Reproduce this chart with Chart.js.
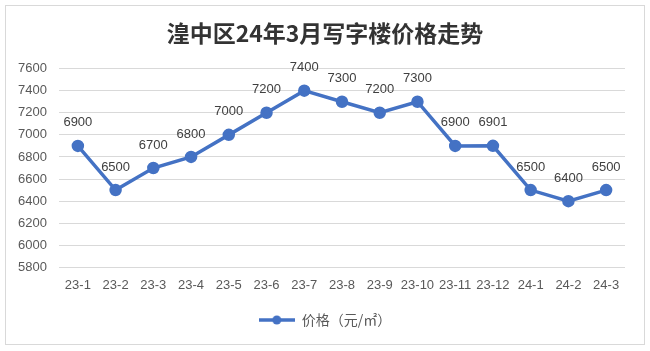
<!DOCTYPE html>
<html><head><meta charset="utf-8">
<script src="https://cdn.jsdelivr.net/npm/chart.js@4/dist/chart.umd.min.js"></script>
<style>
html,body{margin:0;padding:0;background:#fff;}
#wrap{position:absolute;left:0;top:0;width:650px;height:351px;}
#frame{position:absolute;left:5px;top:5px;width:638px;height:338px;border:1px solid #d9d9d9;}
canvas{position:absolute;left:0;top:0;}
</style></head>
<body>
<div id="wrap"><div id="frame"></div><canvas id="c" width="650" height="351"></canvas></div>
<script>
const categories = ['23-1','23-2','23-3','23-4','23-5','23-6','23-7','23-8','23-9','23-10','23-11','23-12','24-1','24-2','24-3'];
const prices = [6900,6500,6700,6800,7000,7200,7400,7300,7200,7300,6900,6901,6500,6400,6500];
const seriesName = '价格（元/㎡）';
const titleText = '湟中区24年3月写字楼价格走势';
const yMin = 5800, yMax = 7600, yStep = 200;

const lineColor = '#4472C4';
const labelFont = '13px "Liberation Sans", "DejaVu Sans", sans-serif';

const legendIcon = document.createElement('canvas');
legendIcon.width = 36; legendIcon.height = 12;
(function(){
  const g = legendIcon.getContext('2d');
  g.strokeStyle = lineColor; g.lineWidth = 3.5;
  g.beginPath(); g.moveTo(0,6); g.lineTo(36,6); g.stroke();
  g.fillStyle = lineColor; g.beginPath(); g.arc(18,6,4.5,0,Math.PI*2); g.fill();
})();

const dataLabels = {
  id:'dataLabels',
  afterDatasetsDraw(chart){
    const ctx = chart.ctx;
    const meta = chart.getDatasetMeta(0);
    ctx.save();
    ctx.font = labelFont;
    ctx.fillStyle = '#404040';
    ctx.textAlign = 'center';
    ctx.textBaseline = 'middle';
    meta.data.forEach((pt,i)=>{
      ctx.fillText(String(chart.data.datasets[0].data[i]), pt.x, pt.y - 23);
    });
    ctx.restore();
  }
};

new Chart(document.getElementById('c'), {
  type:'line',
  data:{labels:categories, datasets:[{
    label:seriesName, data:prices, yAxisID:'y',
    borderColor:lineColor, backgroundColor:lineColor,
    borderWidth:3.5, pointRadius:4.5, pointHoverRadius:4.5,
    pointBackgroundColor:lineColor, pointBorderColor:lineColor, tension:0
  }]},
  options:{
    responsive:false, animation:false, devicePixelRatio:1,
    layout:{padding:{left:14,right:14,top:0,bottom:14}},
    plugins:{
      title:{display:true, text:titleText, color:'#333333',
        font:{family:'"Noto Sans CJK SC", sans-serif', size:23, weight:'bold'},
        padding:{top:19,bottom:22}},
      legend:{position:'bottom', labels:{
        usePointStyle:true, pointStyle:legendIcon, pointStyleWidth:36, color:'#595959',
        font:{family:'"Noto Sans CJK SC", sans-serif', size:14},
        padding:10,
        generateLabels(chart){
          return [{text:seriesName, pointStyle:legendIcon, fillStyle:lineColor, strokeStyle:lineColor, lineWidth:0, fontColor:'#595959', datasetIndex:0}];
        }}},
      tooltip:{enabled:false}
    },
    scales:{
      x:{offset:true, grid:{display:false, drawTicks:false}, border:{display:false},
        ticks:{color:'#595959', font:{family:'"Liberation Sans", sans-serif', size:13}, maxRotation:0, autoSkip:false, padding:10}},
      y:{position:'left', min:yMin, max:yMax, grid:{color:'#d9d9d9', drawTicks:false}, border:{display:false},
        afterFit:(s)=>{ s.width = 45; },
        ticks:{stepSize:yStep, color:'#595959', font:{family:'"Liberation Sans", sans-serif', size:13}, padding:12,
          callback:(v)=>String(v)}},
      yRight:{position:'right', display:true, min:yMin, max:yMax, grid:{display:false, drawTicks:false}, border:{display:false},
        ticks:{display:false}, afterFit:(s)=>{ s.width = 11; }}
    }
  },
  plugins:[dataLabels]
});
</script>
</body></html>
